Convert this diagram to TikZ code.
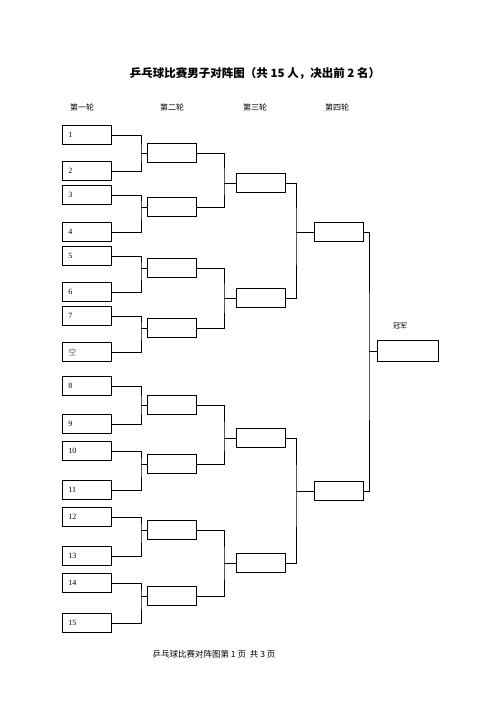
\documentclass[tikz,border=0pt]{standalone}
\usepackage{fontspec}
\setmainfont{Liberation Serif}
\newfontfamily\cjk{Noto Sans CJK SC}
\usetikzlibrary{positioning}

\begin{document}
\begin{tikzpicture}[x=1pt,y=-1pt,
        box/.style={draw,line width=.8pt,anchor=north west,inner xsep=6pt,inner ysep=0pt,
            text width=37pt,minimum height=19pt,align=left,font=\fontsize{8}{9}\selectfont},
        link/.style={line width=.8pt},
        head/.style={font=\cjk\fontsize{8}{9}\selectfont}]
    \useasboundingbox (0,0) rectangle (496,702);
    \node[font=\cjk\bfseries\fontsize{11.5}{13}\selectfont] (title) at (255,73) {乒乓球比赛男子对阵图（共 15 人，决出前 2 名）};
    \node[head] (head1) at (82,107) {第一轮};
    \node[head] (head2) at (172,107) {第二轮};
    \node[head] (head3) at (255,107) {第三轮};
    \node[head] (head4) at (337,107) {第四轮};
    % players
    \foreach \n/\lbl/\y in {1/1/125,2/2/161,3/3/185,4/4/222,5/5/246,6/6/282,7/7/306,8/{\cjk\color{black!60}空}/342,
            9/8/376,10/9/414,11/10/441,12/11/480,13/12/507,14/13/546,15/14/573,16/15/613}
        \node[box] (one\n) at (62,\y) {\lbl};
    \foreach \n/\y in {1/143,2/197,3/258,4/318,5/395,6/454,7/520,8/586}
        \node[box] (two\n) at (147,\y) {};
    \foreach \n/\y in {1/173,2/288,3/428,4/553}
        \node[box] (three\n) at (236,\y) {};
    \node[box] (four1) at (314,222) {};
    \node[box] (four2) at (314,481) {};
    \node[box,text width=49pt,minimum height=21pt] (win) at (377,340) {};
    \node[head,font=\cjk\fontsize{7}{8}\selectfont] (champ) at (400,326) {冠军};
    % brackets
    \foreach \a/\b/\c in {1/2/1,3/4/2,5/6/3,7/8/4,9/10/5,11/12/6,13/14/7,15/16/8}
        \draw[link] (one\a.east) -| ([xshift=-6pt]two\c.west) |- (one\b.east)
            ([xshift=-6pt]two\c.west) -- (two\c.west);
    \foreach \a/\b/\c in {1/2/1,3/4/2,5/6/3,7/8/4}
        \draw[link] (two\a.east) -| ([xshift=-12pt]three\c.west) |- (two\b.east)
            ([xshift=-12pt]three\c.west) -- (three\c.west);
    \foreach \a/\b/\c in {1/2/1,3/4/2}
        \draw[link] (three\a.east) -| ([xshift=-18pt]four\c.west) |- (three\b.east)
            ([xshift=-18pt]four\c.west) -- (four\c.west);
    \draw[link] (four1.east) -| ([xshift=-8pt]win.west) |- (four2.east)
        ([xshift=-8pt]win.west) -- (win.west);
    \node[head,font=\cjk\fontsize{8.5}{10}\selectfont] (foot) at (214,654) {乒乓球比赛对阵图第\ 1\ 页\ \ 共\ 3\ 页};
\end{tikzpicture}
\end{document}
